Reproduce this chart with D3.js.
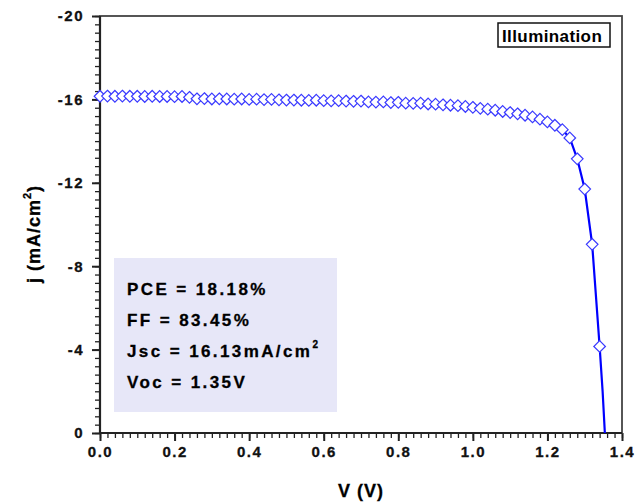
<!DOCTYPE html>
<html>
<head>
<meta charset="utf-8">
<script src="https://cdn.jsdelivr.net/npm/d3@7"></script>
<style>
  body { margin: 0; background: #fff; }
  svg { display: block; font-family: "Liberation Sans", Arial, sans-serif; font-weight: bold; }
</style>
</head>
<body>
<div id="chart"></div>
<script>
// J-V curve under illumination, voltage (V) and current density (mA/cm2)
var voltage = [0.00,0.02,0.04,0.06,0.08,0.10,0.12,0.14,0.16,0.18,
               0.20,0.22,0.24,0.26,0.28,0.30,0.32,0.34,0.36,0.38,
               0.40,0.42,0.44,0.46,0.48,0.50,0.52,0.54,0.56,0.58,
               0.60,0.62,0.64,0.66,0.68,0.70,0.72,0.74,0.76,0.78,
               0.80,0.82,0.84,0.86,0.88,0.90,0.92,0.94,0.96,0.98,
               1.00,1.02,1.04,1.06,1.08,1.10,1.12,1.14,1.16,1.18,
               1.20,1.22,1.24,1.26,1.28,1.30,1.32,1.34];
var current = [-16.15,-16.16,-16.15,-16.16,-16.15,-16.15,-16.14,-16.15,-16.14,-16.14,
               -16.13,-16.14,-16.10,-16.03,-16.04,-16.02,-16.03,-16.02,-16.01,-16.02,
               -16.00,-16.01,-15.99,-16.00,-15.98,-15.97,-15.97,-15.96,-15.95,-15.96,
               -15.94,-15.93,-15.94,-15.92,-15.91,-15.92,-15.88,-15.87,-15.88,-15.85,
               -15.86,-15.82,-15.81,-15.82,-15.78,-15.77,-15.74,-15.72,-15.70,-15.66,
               -15.62,-15.57,-15.53,-15.48,-15.42,-15.37,-15.31,-15.24,-15.16,-15.05,
               -14.92,-14.76,-14.55,-14.15,-13.15,-11.70,-9.05,-4.15];
// line keeps going past the last marker down to j = 0
var tailVoltage = [1.348, 1.354];
var tailCurrent = [-2.0, 0];

var xTicks = [0, 0.2, 0.4, 0.6, 0.8, 1.0, 1.2, 1.4];
var yTicks = [0, -4, -8, -12, -16, -20];
var infoLines = ["PCE = 18.18%", "FF = 83.45%", "Jsc = 16.13mA/cm", "Voc = 1.35V"];
var legendLabel = "Illumination";

var width = 642, height = 503;
var margin = {top: 16, right: 20, bottom: 70, left: 100};

var svg = d3.select("#chart").append("svg")
    .attr("width", width)
    .attr("height", height);

var x = d3.scaleLinear().domain([0, 1.4]).range([margin.left, width - margin.right]);
var y = d3.scaleLinear().domain([0, -20]).range([height - margin.bottom, margin.top]);

// info box (drawn first so the axis sits on top)
var box = svg.append("g");
box.append("rect")
    .attr("x", 114).attr("y", 258)
    .attr("width", 223).attr("height", 154)
    .attr("fill", "#e7e7f8");
box.selectAll("text")
  .data(infoLines)
  .enter().append("text")
    .attr("x", 127)
    .attr("y", function(d, i){ return 295 + i * 31; })
    .attr("font-size", 17)
    .attr("letter-spacing", 2.4)
    .attr("fill", "#000")
    .attr("stroke", "#000").attr("stroke-width", 0.3)
    .each(function(d, i){
      var t = d3.select(this);
      t.append("tspan").text(d);
      if (i == 2) {
        t.append("tspan").attr("font-size", 10).attr("dy", -9).attr("letter-spacing", 0).text("2");
      }
    });

// minor + major ticks
var minorX = d3.range(0, 1.4001, 0.02), minorY = d3.range(0, -20.001, -0.4);

svg.append("g")
    .attr("transform", "translate(0," + y(0) + ")")
    .call(d3.axisBottom(x).tickValues(minorX).tickSize(5).tickFormat(""))
    .call(function(g){ g.select(".domain").remove(); })
    .selectAll("line").attr("stroke", "#222").attr("stroke-width", 1.3);

svg.append("g")
    .attr("transform", "translate(" + x(0) + ",0)")
    .call(d3.axisLeft(y).tickValues(minorY).tickSize(5).tickFormat(""))
    .call(function(g){ g.select(".domain").remove(); })
    .selectAll("line").attr("stroke", "#222").attr("stroke-width", 1.3);

var xAxis = svg.append("g")
    .attr("transform", "translate(0," + y(0) + ")")
    .call(d3.axisBottom(x).tickValues(xTicks).tickSize(8).tickPadding(5).tickFormat(d3.format(".1f")));
xAxis.select(".domain").remove();
xAxis.selectAll("line").attr("stroke", "#222").attr("stroke-width", 2);
xAxis.selectAll("text")
    .attr("font-size", 15).attr("font-family", "Liberation Sans, Arial, sans-serif")
    .attr("font-weight", "bold").attr("fill", "#111").attr("letter-spacing", 1.5)
    .attr("stroke", "#111").attr("stroke-width", 0.3);

var yAxis = svg.append("g")
    .attr("transform", "translate(" + x(0) + ",0)")
    .call(d3.axisLeft(y).tickValues(yTicks).tickSize(8).tickPadding(8).tickFormat(function(d){ return String(d); }));
yAxis.select(".domain").remove();
yAxis.selectAll("line").attr("stroke", "#222").attr("stroke-width", 2);
yAxis.selectAll("text")
    .attr("font-size", 15).attr("font-family", "Liberation Sans, Arial, sans-serif")
    .attr("font-weight", "bold").attr("fill", "#111").attr("letter-spacing", 1.5)
    .attr("stroke", "#111").attr("stroke-width", 0.3);

// frame
svg.append("rect")
    .attr("x", x(0)).attr("y", y(-20))
    .attr("width", x(1.4) - x(0)).attr("height", y(0) - y(-20))
    .attr("fill", "none").attr("stroke", "#444").attr("stroke-width", 1.8);
svg.append("path")
    .attr("d", "M" + x(0) + "," + y(-20) + "V" + y(0) + "H" + x(1.4))
    .attr("fill", "none").attr("stroke", "#222").attr("stroke-width", 2.2);

// curve
var pts = voltage.map(function(v, i){ return [v, current[i]]; });
var linePts = pts.concat(tailVoltage.map(function(v, i){ return [v, tailCurrent[i]]; }));

var line = d3.line()
    .x(function(d){ return x(d[0]); })
    .y(function(d){ return y(d[1]); });

svg.append("path")
    .datum(linePts)
    .attr("d", line)
    .attr("fill", "none")
    .attr("stroke", "#0000ff")
    .attr("stroke-width", 2.2);

var r = 5.8;
svg.append("g")
  .selectAll("path")
  .data(pts)
  .enter().append("path")
    .attr("d", "M0," + (-r) + "L" + r + ",0L0," + r + "L" + (-r) + ",0Z")
    .attr("transform", function(d){ return "translate(" + x(d[0]) + "," + y(d[1]) + ")"; })
    .attr("fill", "#fff")
    .attr("stroke", "#3a3aff")
    .attr("stroke-width", 1.2);

// legend box
svg.append("rect")
    .attr("x", 498).attr("y", 23).attr("width", 112).attr("height", 24)
    .attr("fill", "#fff").attr("stroke", "#111").attr("stroke-width", 1.5);
svg.append("text")
    .attr("x", 502).attr("y", 42)
    .attr("font-size", 17).attr("letter-spacing", 0.4)
    .text(legendLabel);

// axis titles
svg.append("text")
    .attr("x", (x(0) + x(1.4)) / 2).attr("y", 497)
    .attr("text-anchor", "middle")
    .attr("font-size", 18).attr("letter-spacing", 1)
    .attr("stroke", "#000").attr("stroke-width", 0.3)
    .text("V (V)");

var yt = svg.append("text")
    .attr("transform", "translate(40,234) rotate(-90)")
    .attr("text-anchor", "middle")
    .attr("font-size", 18).attr("letter-spacing", 1)
    .attr("stroke", "#000").attr("stroke-width", 0.3);
yt.append("tspan").text("j (mA/cm");
yt.append("tspan").attr("font-size", 11).attr("dy", -9).text("2");
yt.append("tspan").attr("dy", 9).text(")");
</script>
</body>
</html>
